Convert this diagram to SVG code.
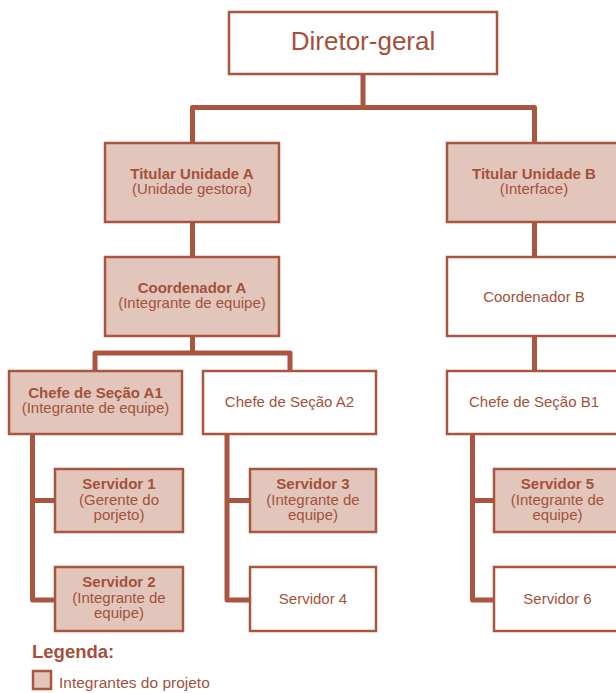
<svg xmlns="http://www.w3.org/2000/svg" width="616" height="693" viewBox="0 0 616 693">
<style>
.box{stroke:#a9553f;stroke-width:2.5;fill:#ffffff}
.hl{fill:#e2c6bb}
.conn{stroke:#a9553f;stroke-width:5;fill:none;stroke-linejoin:round;stroke-linecap:butt}
text{font-family:"Liberation Sans",Arial,sans-serif;fill:#a4513b;text-anchor:middle;font-size:15px}
.b{font-weight:bold}
</style>
<rect width="616" height="693" fill="#ffffff"/>
<g id="connectors">
<path class="conn" d="M363,74 V107.5 M192.5,143 V107.5 H534.5 V143"/>
<path class="conn" d="M192.5,222 V257"/>
<path class="conn" d="M534.5,222 V257"/>
<path class="conn" d="M192.5,336 V353 M95,371 V353 H290 V371"/>
<path class="conn" d="M534.5,336 V371"/>
<path class="conn" d="M32.5,434 V600 H55 M32.5,500.5 H55"/>
<path class="conn" d="M227,434 V600 H250 M227,500.5 H250"/>
<path class="conn" d="M472.5,434 V600 H494 M472.5,500.5 H494"/>
</g>
<g id="diretor">
<rect class="box" x="229" y="12" width="268" height="62"/>
<text x="363" y="49.5" style="font-size:26px">Diretor-geral</text>
</g>
<g id="titularA">
<rect class="box hl" x="105" y="143" width="174" height="79"/>
<text class="b" x="192" y="179">Titular Unidade A</text>
<text x="192" y="193.5">(Unidade gestora)</text>
</g>
<g id="titularB">
<rect class="box hl" x="447" y="143" width="174" height="79"/>
<text class="b" x="534" y="179">Titular Unidade B</text>
<text x="534" y="194">(Interface)</text>
</g>
<g id="coordA">
<rect class="box hl" x="105" y="257" width="174" height="79"/>
<text class="b" x="192" y="293">Coordenador A</text>
<text x="192" y="307.5">(Integrante de equipe)</text>
</g>
<g id="coordB">
<rect class="box" x="447" y="257" width="174" height="79"/>
<text x="534" y="301.5">Coordenador B</text>
</g>
<g id="chefeA1">
<rect class="box hl" x="9" y="371" width="173" height="63"/>
<text class="b" x="95.5" y="398">Chefe de Seção A1</text>
<text x="95.5" y="413">(Integrante de equipe)</text>
</g>
<g id="chefeA2">
<rect class="box" x="203" y="371" width="173" height="63"/>
<text x="289.5" y="406.5">Chefe de Seção A2</text>
</g>
<g id="chefeB1">
<rect class="box" x="447" y="371" width="174" height="63"/>
<text x="534" y="406.5">Chefe de Seção B1</text>
</g>
<g id="servidor1">
<rect class="box hl" x="55" y="469" width="128" height="63"/>
<text class="b" x="119" y="489">Servidor 1</text>
<text x="119" y="504.5">(Gerente do</text>
<text x="119" y="519.5">porjeto)</text>
</g>
<g id="servidor2">
<rect class="box hl" x="55" y="567" width="128" height="64"/>
<text class="b" x="119" y="587">Servidor 2</text>
<text x="119" y="602.5">(Integrante de</text>
<text x="119" y="617.5">equipe)</text>
</g>
<g id="servidor3">
<rect class="box hl" x="250" y="469" width="126" height="63"/>
<text class="b" x="313" y="489">Servidor 3</text>
<text x="313" y="504.5">(Integrante de</text>
<text x="313" y="519.5">equipe)</text>
</g>
<g id="servidor4">
<rect class="box" x="250" y="567" width="126" height="64"/>
<text x="313" y="604">Servidor 4</text>
</g>
<g id="servidor5">
<rect class="box hl" x="494" y="469" width="127" height="63"/>
<text class="b" x="557.5" y="489">Servidor 5</text>
<text x="557.5" y="504.5">(Integrante de</text>
<text x="557.5" y="519.5">equipe)</text>
</g>
<g id="servidor6">
<rect class="box" x="494" y="567" width="127" height="64"/>
<text x="557.5" y="604">Servidor 6</text>
</g>
<g id="legenda">
<text class="b" x="32" y="658" style="font-size:18.5px;text-anchor:start">Legenda:</text>
<rect class="box hl" x="33" y="671" width="18" height="18"/>
<text x="59" y="688" style="font-size:15.5px;text-anchor:start">Integrantes do projeto</text>
</g>
</svg>
